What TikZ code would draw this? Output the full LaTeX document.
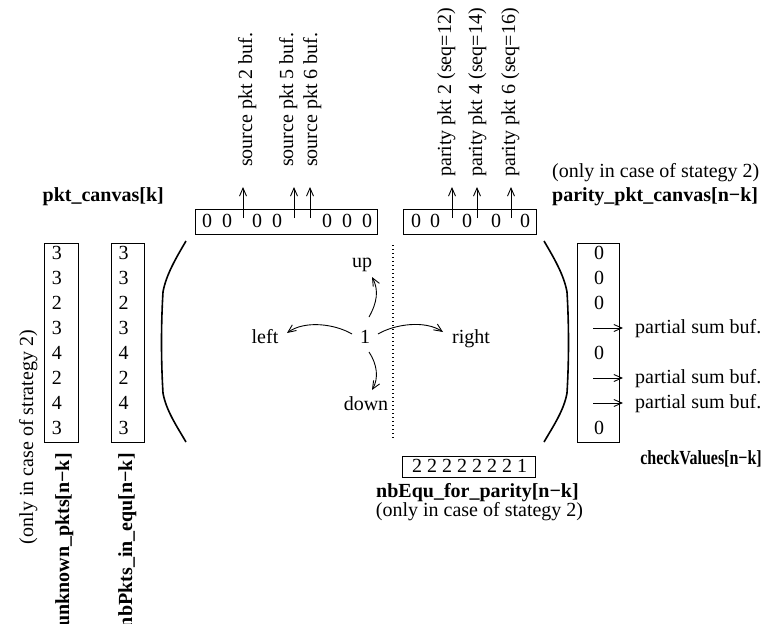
\documentclass[tikz,border=0pt]{standalone}
\usepackage{fontspec}
\setmainfont{Liberation Serif}
\usetikzlibrary{arrows.meta}
\begin{document}
\begin{tikzpicture}[x=1pt,y=-1pt,
  every node/.style={font=\fontsize{20}{24}\selectfont, inner sep=0pt},
  lbl/.style={font=\fontsize{20}{24}\selectfont\bfseries},
  arr/.style={-{Straight Barb[length=8pt,width=7pt]}, line width=0.9pt},
  box/.style={draw, line width=0.9pt, inner sep=0pt},
  paren/.style={line width=1.6pt},
  vlab/.style={rotate=90, anchor=base west},
]
\useasboundingbox (0,0) rectangle (764,624);

% boxes
\node[box, minimum width=182pt, minimum height=25pt] (pc) at (286,221.5) {};
\node[box, minimum width=133pt, minimum height=25pt] (ppc) at (469.5,221.5) {};
\node[box, minimum width=34pt, minimum height=199pt] (unk) at (61,342.5) {};
\node[box, minimum width=33pt, minimum height=199pt] (nbp) at (127.5,342.5) {};
\node[box, minimum width=42pt, minimum height=199pt] (cv) at (598,342.5) {};
\node[box, minimum width=133pt, minimum height=21pt] (nbe) at (468.5,466.5) {};

% digits in top boxes
\foreach \x [count=\i] in {207,227,257,277,327,347,367}
  \node (pcd\i) at (\x,221) {0};
\foreach \x [count=\i] in {416,435,467,496,525}
  \node (ppcd\i) at (\x,221) {0};

% left columns
\foreach \v [count=\i] in {3,3,2,3,4,2,4,3} {
  \node (unkd\i) at (57,{253+25*(\i-1)}) {\v};
  \node (nbpd\i) at (123.5,{253+25*(\i-1)}) {\v};
}
% checkValues digits
\foreach \i in {1,2,3,5,8}
  \node (cvd\i) at (599,{253+25*(\i-1)}) {0};

% bottom box text
\node[anchor=base west] (nbet) at (412,472) {2 2 2 2 2 2 2 1};

% labels
\node[lbl, anchor=base east] (lpc) at (164,201) {pkt\_canvas[k]};
\node[lbl, anchor=base west] (lppc) at (552,201) {parity\_pkt\_canvas[n−k]};
\node[anchor=base west] (oppc) at (552,177) {(only in case of stategy 2)};
\node[lbl, anchor=base east] (lcv) at (762,464) {\scalebox{0.8}[1]{checkValues[n−k]}};
\node[lbl, anchor=base] (lnbe) at (477.5,497) {nbEqu\_for\_parity[n−k]};
\node[anchor=base] (onbe) at (479.5,516) {(only in case of stategy 2)};
\node[lbl, rotate=90, anchor=base east] (lunk) at (69,453) {unknown\_pkts[n−k]};
\node[lbl, rotate=90, anchor=base east] (lnbp) at (132,453) {nbPkts\_in\_equ[n−k]};
\node[rotate=90, anchor=base east] (ounk) at (33,330) {(only in case of strategy 2)};

% source packet arrows and labels
\node[vlab] (s2) at (252,167) {source pkt 2 buf.};
\node[vlab] (s5) at (293,167) {source pkt 5 buf.};
\node[vlab] (s6) at (317,167) {source pkt 6 buf.};
\foreach \x/\n in {243/a2,294/a5,310/a6} {
  \coordinate (\n b) at (\x,218);
  \coordinate (\n t) at (\x,187);
  \draw[arr] (\n b) -- (\n t);
}
% parity packet arrows and labels
\node[vlab] (p2) at (451,177) {parity pkt 2 (seq=12)};
\node[vlab] (p4) at (482,177) {parity pkt 4 (seq=14)};
\node[vlab] (p6) at (515,177) {parity pkt 6 (seq=16)};
\foreach \x/\n in {452/b2,477/b4,511/b6} {
  \coordinate (\n b) at (\x,218);
  \coordinate (\n t) at (\x,187);
  \draw[arr] (\n b) -- (\n t);
}

% partial sums
\foreach \y/\n in {328/c4,378/c6,403/c7} {
  \coordinate (\n s) at (593,\y);
  \coordinate (\n e) at (623,\y);
  \draw[arr] (\n s) -- (\n e);
  \node[anchor=base west] (\n t) at (635,\y+5) {partial sum buf.};
}

% parentheses
\draw[paren] (186,241) .. controls (176,258) and (166,275) .. (163,292)
  .. controls (161,325) and (161,360) .. (163,393)
  .. controls (166,410) and (176,425) .. (186,442);
\draw[paren] (544,241) .. controls (554,258) and (564,275) .. (567,292)
  .. controls (569,325) and (569,360) .. (567,393)
  .. controls (564,410) and (554,425) .. (544,442);

% dotted separator
\coordinate (dt) at (393,245);
\coordinate (db) at (393,438);
\draw[line width=1.2pt, dash pattern=on 1.2pt off 2.8pt] (dt) -- (db);

% centre element and directions
\node[anchor=base] (one) at (365,343) {1};
\node[anchor=base] (left) at (265,343) {left};
\node[anchor=base] (right) at (471,343) {right};
\node[anchor=base] (up) at (362,267) {up};
\node[anchor=base] (down) at (366,410) {down};
\coordinate (ou) at (369,317);
\coordinate (ud) at (372,277);
\coordinate (od) at (369,352);
\coordinate (dd) at (372,390);
\coordinate (ol) at (352,334);
\coordinate (ld) at (287,333);
\coordinate (or) at (378,334);
\coordinate (rd) at (443,332);
\draw[arr] (ou) .. controls (377,303) and (379,290) .. (ud);
\draw[arr] (od) .. controls (377,364) and (379,378) .. (dd);
\draw[arr] (ol) .. controls (335,324) and (305,320) .. (ld);
\draw[arr] (or) .. controls (395,324) and (425,320) .. (rd);
\end{tikzpicture}
\end{document}
